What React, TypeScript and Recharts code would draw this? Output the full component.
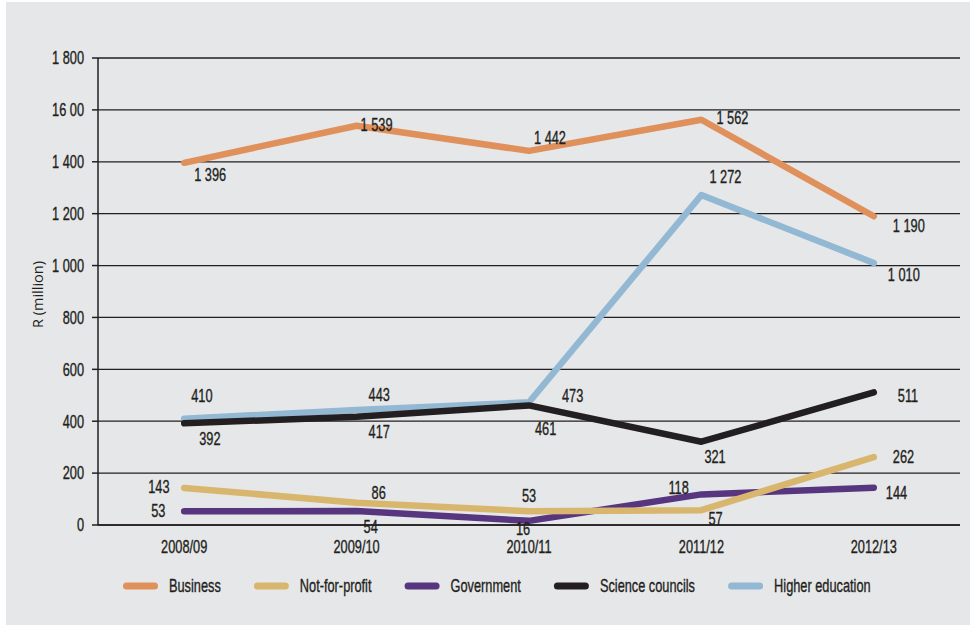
import { LineChart, Line, XAxis, YAxis, CartesianGrid, LabelList } from "recharts";

const years = ["2008/09", "2009/10", "2010/11", "2011/12", "2012/13"];
const business = [1396, 1539, 1442, 1562, 1190];
const notForProfit = [143, 86, 53, 57, 262];
const government = [53, 54, 16, 118, 144];
const scienceCouncils = [392, 417, 461, 321, 511];
const higherEducation = [410, 443, 473, 1272, 1010];

const yTicks = [0, 200, 400, 600, 800, 1000, 1200, 1400, 1600, 1800];
const yTickLabels = ["0", "200", "400", "600", "800", "1 000", "1 200", "1 400", "16 00", "1 800"];

const ink = "#231f20";
const font = "'Liberation Sans', Arial, sans-serif";
const SX = 0.71; // squeeze glyphs to mimic the condensed face
const FS = 18;

// where each value label sits relative to its point: [dx, dy]
const series = [
  { key: "higher", name: "Higher education", color: "#93b8d3", values: higherEducation,
    offsets: [[7, -23], [12, -15], [33, -7], [8, -18], [14, 12]] },
  { key: "business", name: "Business", color: "#e0905a", values: business,
    offsets: [[10, 12], [4, -1], [5, -13], [15, -2], [19, 9]] },
  { key: "gov", name: "Government", color: "#57357f", values: government,
    offsets: [[-33, -1], [7, 16], [-13, 8], [-33, -7], [12, 5]] },
  { key: "nfp", name: "Not-for-profit", color: "#d8b66e", values: notForProfit,
    offsets: [[-36, -1], [15, -10], [-7, -16], [7, 8], [19, 0]] },
  { key: "science", name: "Science councils", color: ink, values: scienceCouncils,
    offsets: [[15, 15], [12, 15], [6, 23], [3, 15], [24, 3]] },
];

const legendOrder = ["business", "nfp", "gov", "science", "higher"];

const data = years.map((year, i) => {
  const row: any = { year, pos: i + 0.5 };
  series.forEach((s) => (row[s.key] = s.values[i]));
  return row;
});

const fmt = (v: number) => String(v).replace(/\B(?=(\d{3})+(?!\d))/g, " ");

let ctx: CanvasRenderingContext2D | null = null;
const textWidth = (s: string) => {
  if (!ctx) ctx = document.createElement("canvas").getContext("2d");
  ctx!.font = `${FS}px ${font}`;
  return ctx!.measureText(s).width * SX;
};

function NarrowText({ x, y, anchor = "start", children }: any) {
  return (
    <text transform={`translate(${x} ${y}) scale(${SX} 1)`} textAnchor={anchor} dominantBaseline="central"
      fontSize={FS} fontFamily={font} fill={ink} stroke={ink} strokeWidth={0.35}>
      {children}
    </text>
  );
}

const labelAt = (offsets: number[][]) => (props: any) => {
  const { x, y, value, index } = props;
  const [dx, dy] = offsets[index];
  return <NarrowText x={x + dx} y={y + dy}>{fmt(value)}</NarrowText>;
};

const YearTick = (props: any) => (
  <NarrowText x={props.x} y={props.y + 8} anchor="middle">{years[Math.floor(props.payload.value)]}</NarrowText>
);

const ValueTick = (props: any) => (
  <NarrowText x={props.x} y={props.y} anchor="end">{yTickLabels[yTicks.indexOf(props.payload.value)]}</NarrowText>
);

const yLabel = (props: any) => {
  const vb = props.viewBox;
  const cx = vb.x + 31;
  const cy = vb.y + vb.height / 2 + 3;
  return (
    <text x={cx} y={cy} transform={`rotate(-90 ${cx} ${cy})`} textAnchor="middle" dominantBaseline="central"
      fontSize={14.5} fill={ink} fontFamily="'Open Sans', sans-serif">
      R (million)
    </text>
  );
};

function ChartLegend() {
  let cursor = 0;
  const items = legendOrder.map((k) => {
    const s = series.find((x) => x.key === k)!;
    const x0 = cursor;
    cursor += 35 + 11 + textWidth(s.name) + 33;
    return (
      <g key={k}>
        <line x1={x0 + 3.5} x2={x0 + 31.5} y1={12} y2={12} stroke={s.color} strokeWidth={7} strokeLinecap="round" />
        <NarrowText x={x0 + 46} y={12}>{s.name}</NarrowText>
      </g>
    );
  });
  return (
    <svg style={{ position: "absolute", left: 117, top: 572 }} width={800} height={24}>
      {items}
    </svg>
  );
}

export default function App() {
  return (
    <div style={{ position: "absolute", left: 6, top: 2, width: 964, height: 623, background: "#e6e7e9" }}>
      <LineChart width={964} height={623} data={data} margin={{ top: 56, right: 10, bottom: 62, left: 0 }}>
        <CartesianGrid vertical={false} stroke={ink} strokeWidth={1.3} />
        <XAxis xAxisId="marks" type="number" dataKey="pos" domain={[0, 5]} ticks={[0, 1, 2, 3, 4, 5]}
          tick={false} tickSize={7} height={8} stroke={ink} strokeWidth={1.5} />
        <XAxis xAxisId="years" type="number" dataKey="pos" domain={[0, 5]} ticks={[0.5, 1.5, 2.5, 3.5, 4.5]}
          axisLine={false} tickLine={false} tickSize={0} tickMargin={6} height={30} tick={<YearTick />} />
        <YAxis width={92} domain={[0, 1800]} ticks={yTicks} interval={0} tickSize={6} tickMargin={8}
          stroke={ink} strokeWidth={1.5} tick={<ValueTick />} label={{ content: yLabel }} />
        {series.map((s) => (
          <Line key={s.key} xAxisId="marks" dataKey={s.key} stroke={s.color} strokeWidth={6.5}
            strokeLinecap="round" strokeLinejoin="round" dot={false} activeDot={false} isAnimationActive={false}>
            <LabelList dataKey={s.key} content={labelAt(s.offsets)} />
          </Line>
        ))}
      </LineChart>
      <ChartLegend />
    </div>
  );
}
